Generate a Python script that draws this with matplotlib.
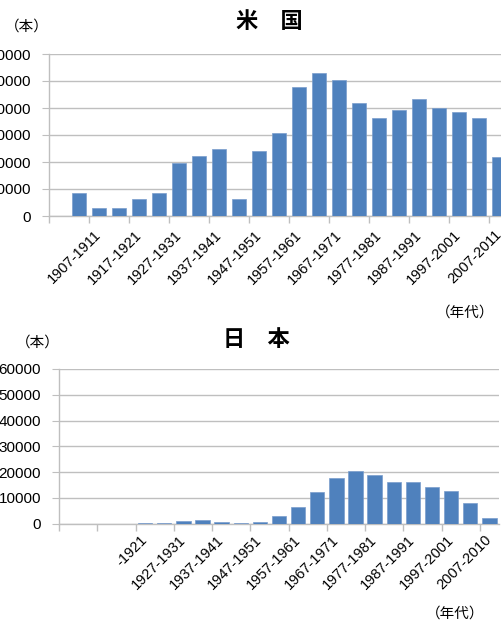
import matplotlib
matplotlib.use("Agg")
import matplotlib.pyplot as plt
from matplotlib.ticker import FixedLocator

plt.rcParams['font.family'] = ['Liberation Sans', 'Noto Sans CJK JP', 'DejaVu Sans']

# ---------------- data ----------------
us_categories = ["", "-1906", "1907-1911", "1912-1916", "1917-1921", "1922-1926",
                 "1927-1931", "1932-1936", "1937-1941", "1942-1946", "1947-1951",
                 "1952-1956", "1957-1961", "1962-1966", "1967-1971", "1972-1976",
                 "1977-1981", "1982-1986", "1987-1991", "1992-1996", "1997-2001",
                 "2002-2006", "2007-2011"]
us_values = [0, 8600, 3100, 3100, 6200, 8400, 19600, 22400, 24700, 6400, 24000,
             30600, 47700, 53000, 50300, 41700, 36300, 39100, 43300, 40000, 38700,
             36300, 21800]

jp_categories = ["", "", "", "", "-1921", "1922-1926", "1927-1931", "1932-1936",
                 "1937-1941", "1942-1946", "1947-1951", "1952-1956", "1957-1961",
                 "1962-1966", "1967-1971", "1972-1976", "1977-1981", "1982-1986",
                 "1987-1991", "1992-1996", "1997-2001", "2002-2006", "2007-2010"]
jp_values = [0, 0, 0, 0, 400, 400, 900, 1400, 500, 400, 500, 3100, 6300, 12200,
             17600, 20500, 18700, 16000, 16300, 14300, 12700, 8000, 2300]

y_ticks = [0, 10000, 20000, 30000, 40000, 50000, 60000]

BAR = '#4F81BD'
GRID = '#BFBFBF'

W, H = 501, 621
fig = plt.figure(figsize=(W / 100, H / 100), dpi=100)


def px_axes(left, top, right, bottom):
    return fig.add_axes([left / W, 1 - bottom / H, (right - left) / W, (bottom - top) / H])


def style(ax, cats, vals, width, pad):
    n = len(cats)
    x = list(range(n))
    ax.bar(x, vals, width=width, color=BAR, edgecolor='#7a9dcc', linewidth=0.5, zorder=3)
    ax.set_xlim(-0.5, n - 0.5)
    ax.set_ylim(0, 60000)
    ax.yaxis.set_major_locator(FixedLocator(y_ticks))
    ax.set_yticklabels([str(v) for v in y_ticks])
    ax.grid(axis='y', color=GRID, linewidth=1.0, zorder=0)
    ax.set_axisbelow(True)
    for s in ['top', 'right']:
        ax.spines[s].set_visible(False)
    for s in ['left', 'bottom']:
        ax.spines[s].set_color(GRID)
        ax.spines[s].set_linewidth(1.0)
    ax.tick_params(axis='y', length=5, color=GRID, labelsize=11, pad=8, labelcolor='black')
    # labels on every second category centre
    ax.set_xticks(x[::2])
    ax.set_xticklabels(cats[::2])
    ax.tick_params(axis='x', which='major', length=0, pad=pad, labelsize=10.5)
    plt.setp(ax.get_xticklabels(), rotation=45, ha='right', va='center',
             rotation_mode='anchor')
    # tick marks on category boundaries
    ax.set_xticks([i - 0.5 for i in range(0, n, 2)], minor=True)
    ax.tick_params(axis='x', which='minor', length=5, color=GRID, width=1.0)


ax1 = px_axes(49, 54, 509, 216)
style(ax1, us_categories, us_values, 0.72, 12)

ax2 = px_axes(59, 369, 499, 523.7)
style(ax2, jp_categories, jp_values, 0.75, 10)

cjk = ['Noto Sans CJK JP', 'DejaVu Sans']
fig.text(269 / W, 1 - 21 / H, "米　国", fontsize=16, fontweight='bold', family=cjk,
         ha='center', va='center')
fig.text(256 / W, 1 - 340 / H, "日　本", fontsize=16, fontweight='bold', family=cjk,
         ha='center', va='center')
fig.text(27 / W, 1 - 27 / H, "（本）", fontsize=10.5, family=cjk, ha='center', va='center')
fig.text(38 / W, 1 - 343 / H, "（本）", fontsize=10.5, family=cjk, ha='center', va='center')
fig.text(465 / W, 1 - 313 / H, "（年代）", fontsize=10.5, family=cjk, ha='center', va='center')
fig.text(455 / W, 1 - 614 / H, "（年代）", fontsize=10.5, family=cjk, ha='center', va='center')

fig.savefig("out.png", dpi=100)
